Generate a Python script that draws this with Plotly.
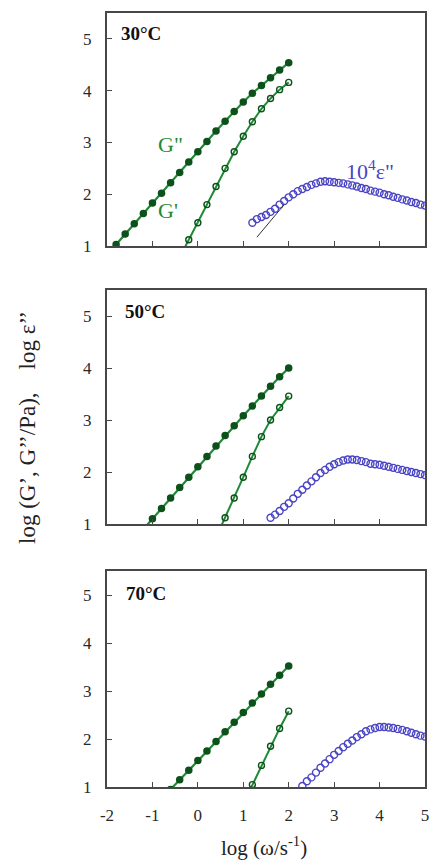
import plotly.graph_objects as go

FONT = "Liberation Serif"
GREEN_LINE = "#1f8a35"
GREEN_DARK = "#0b5119"
BLUE = "#4a44c4"

# ---------------- data ----------------
temps = ["30°C", "50°C", "70°C"]

# 30 C
g2_30_x = [-1.8, -1.6, -1.4, -1.2, -1.0, -0.8, -0.6, -0.4, -0.2, 0.0, 0.2, 0.4, 0.6, 0.8, 1.0, 1.2, 1.4, 1.6, 1.8, 2.0]
g2_30_y = [1.03, 1.23, 1.43, 1.63, 1.83, 2.02, 2.22, 2.42, 2.62, 2.82, 3.02, 3.22, 3.41, 3.60, 3.78, 3.95, 4.10, 4.25, 4.40, 4.54]
g1_30_x = [-0.4, -0.2, 0.0, 0.2, 0.4, 0.6, 0.8, 1.0, 1.2, 1.4, 1.6, 1.8, 2.0]
g1_30_y = [0.78, 1.12, 1.45, 1.80, 2.15, 2.50, 2.82, 3.12, 3.40, 3.65, 3.85, 4.02, 4.16]
e_30_x = [1.2, 1.3, 1.4, 1.5, 1.6, 1.7, 1.8, 1.9, 2.0, 2.1, 2.2, 2.3, 2.4, 2.5, 2.6, 2.7, 2.8, 2.9, 3.0,
          3.1, 3.2, 3.3, 3.4, 3.5, 3.6, 3.7, 3.8, 3.9, 4.0, 4.1, 4.2, 4.3, 4.4, 4.5, 4.6, 4.7, 4.8, 4.9, 5.0]
e_30_y = [1.45, 1.52, 1.56, 1.60, 1.66, 1.72, 1.80, 1.87, 1.94, 2.00, 2.06, 2.10, 2.14, 2.18, 2.21, 2.24, 2.25, 2.24, 2.23,
          2.22, 2.21, 2.19, 2.17, 2.15, 2.12, 2.10, 2.07, 2.05, 2.03, 2.00, 1.98, 1.95, 1.93, 1.90, 1.88, 1.85, 1.83, 1.80, 1.78]
fit_30_x = [1.3, 1.9]
fit_30_y = [1.17, 1.80]

# 50 C
g2_50_x = [-1.2, -1.0, -0.8, -0.6, -0.4, -0.2, 0.0, 0.2, 0.4, 0.6, 0.8, 1.0, 1.2, 1.4, 1.6, 1.8, 2.0]
g2_50_y = [0.90, 1.10, 1.30, 1.50, 1.70, 1.90, 2.10, 2.30, 2.50, 2.70, 2.89, 3.08, 3.27, 3.46, 3.65, 3.83, 4.00]
g1_50_x = [0.4, 0.6, 0.8, 1.0, 1.2, 1.4, 1.6, 1.8, 2.0]
g1_50_y = [0.74, 1.12, 1.50, 1.90, 2.30, 2.68, 3.00, 3.24, 3.46]
e_50_x = [1.6, 1.7, 1.8, 1.9, 2.0, 2.1, 2.2, 2.3, 2.4, 2.5, 2.6, 2.7, 2.8, 2.9, 3.0, 3.1, 3.2, 3.3,
          3.4, 3.5, 3.6, 3.7, 3.8, 3.9, 4.0, 4.1, 4.2, 4.3, 4.4, 4.5, 4.6, 4.7, 4.8, 4.9, 5.0]
e_50_y = [1.12, 1.18, 1.25, 1.33, 1.40, 1.49, 1.58, 1.66, 1.74, 1.82, 1.90, 1.98, 2.04, 2.10, 2.15, 2.19, 2.22, 2.24,
          2.24, 2.23, 2.21, 2.19, 2.16, 2.15, 2.14, 2.12, 2.10, 2.08, 2.06, 2.04, 2.02, 2.00, 1.98, 1.96, 1.94]

# 70 C
g2_70_x = [-0.6, -0.4, -0.2, 0.0, 0.2, 0.4, 0.6, 0.8, 1.0, 1.2, 1.4, 1.6, 1.8, 2.0]
g2_70_y = [0.95, 1.15, 1.35, 1.55, 1.75, 1.95, 2.15, 2.35, 2.55, 2.75, 2.94, 3.14, 3.33, 3.52]
g1_70_x = [1.0, 1.2, 1.4, 1.6, 1.8, 2.0]
g1_70_y = [0.65, 1.05, 1.45, 1.85, 2.22, 2.58]
e_70_x = [2.3, 2.4, 2.5, 2.6, 2.7, 2.8, 2.9, 3.0, 3.1, 3.2, 3.3, 3.4, 3.5, 3.6,
          3.7, 3.8, 3.9, 4.0, 4.1, 4.2, 4.3, 4.4, 4.5, 4.6, 4.7, 4.8, 4.9, 5.0]
e_70_y = [1.02, 1.12, 1.20, 1.30, 1.40, 1.49, 1.58, 1.67, 1.75, 1.83, 1.90, 1.97, 2.04, 2.10,
          2.16, 2.20, 2.23, 2.25, 2.25, 2.24, 2.23, 2.21, 2.19, 2.16, 2.13, 2.10, 2.07, 2.05]

x_ticks = [-2, -1, 0, 1, 2, 3, 4, 5]
y_ticks = [1, 2, 3, 4, 5]

panels = [
    (g2_30_x, g2_30_y, g1_30_x, g1_30_y, e_30_x, e_30_y),
    (g2_50_x, g2_50_y, g1_50_x, g1_50_y, e_50_x, e_50_y),
    (g2_70_x, g2_70_y, g1_70_x, g1_70_y, e_70_x, e_70_y),
]

fig = go.Figure()
for i, (g2x, g2y, g1x, g1y, ex, ey) in enumerate(panels):
    sfx = "" if i == 0 else str(i + 1)
    xa, ya = "x" + sfx, "y" + sfx
    fig.add_trace(go.Scatter(x=g1x, y=g1y, xaxis=xa, yaxis=ya, mode="lines+markers",
                             line=dict(color=GREEN_LINE, width=2),
                             marker=dict(symbol="circle-open", size=6, color=GREEN_DARK, line=dict(width=1.4))))
    fig.add_trace(go.Scatter(x=g2x, y=g2y, xaxis=xa, yaxis=ya, mode="lines+markers",
                             line=dict(color=GREEN_LINE, width=2.2),
                             marker=dict(symbol="circle", size=7.5, color=GREEN_DARK)))
    fig.add_trace(go.Scatter(x=ex, y=ey, xaxis=xa, yaxis=ya, mode="markers",
                             marker=dict(symbol="circle-open", size=7, color=BLUE, line=dict(width=1.4))))
    if i == 0:
        fig.add_trace(go.Scatter(x=fit_30_x, y=fit_30_y, xaxis=xa, yaxis=ya, mode="lines",
                                 line=dict(color="#333333", width=1)))

# layout: margins and domains in pixels
W, H = 433, 864
ml, mr, mt, mb = 107, 4, 13, 77
ph = H - mt - mb
bottom_px = H - mb
def dom(top, bot):
    return [(bottom_px - bot) / ph, (bottom_px - top) / ph]

domains = [dom(13, 246), dom(290, 524), dom(571, 787)]

axis_common = dict(showline=True, mirror=True, linecolor="#484848", linewidth=2,
                   ticks="inside", ticklen=5, tickcolor="#484848", tickwidth=1.2,
                   showgrid=False, zeroline=False,
                   tickfont=dict(family=FONT, size=17, color="#2a2a2a"))

layout = dict(width=W, height=H, margin=dict(l=ml, r=mr, t=mt, b=mb),
              paper_bgcolor="white", plot_bgcolor="white", showlegend=False)
for i in range(3):
    sfx = "" if i == 0 else str(i + 1)
    layout["xaxis" + sfx] = dict(axis_common, range=[-2, 5], tickvals=x_ticks,
                                 ticktext=[str(v) for v in x_ticks],
                                 anchor="y" + sfx, domain=[0, 1],
                                 showticklabels=(i == 2), ticklabelstandoff=12)
    layout["yaxis" + sfx] = dict(axis_common, range=[1, 5.5], tickvals=y_ticks,
                                 anchor="x" + sfx, domain=domains[i], ticklabelstandoff=10)
fig.update_layout(**layout)

# temperature labels
temp_pos = [(-1.74, 5.1), (-1.65, 5.08), (-1.63, 5.04)]
for i, t in enumerate(temps):
    sfx = "" if i == 0 else str(i + 1)
    fig.add_annotation(x=temp_pos[i][0], y=temp_pos[i][1], xref="x" + sfx, yref="y" + sfx,
                       text="<b>" + t + "</b>", showarrow=False, xanchor="left", yanchor="middle",
                       font=dict(family=FONT, size=19, color="#111111"))

# curve labels (panel 1)
fig.add_annotation(x=-0.61, y=2.96, xref="x", yref="y", text="G\"", showarrow=False,
                   font=dict(family=FONT, size=22, color=GREEN_LINE))
fig.add_annotation(x=-0.65, y=1.69, xref="x", yref="y", text="G'", showarrow=False,
                   font=dict(family=FONT, size=22, color=GREEN_LINE))
fig.add_annotation(x=3.78, y=2.46, xref="x", yref="y", text="10<sup>4</sup>ε\"", showarrow=False,
                   font=dict(family=FONT, size=22, color=BLUE))

# axis titles
fig.add_annotation(x=(266 - ml) / (W - ml - mr), y=(bottom_px - 846) / ph, xref="paper", yref="paper",
                   text="log (ω/s<sup>-1</sup>)", showarrow=False, yanchor="middle",
                   font=dict(family=FONT, size=21, color="#222222"))
fig.add_annotation(x=(26 - ml) / (W - ml - mr), y=(bottom_px - 428) / ph, xref="paper", yref="paper",
                   text="log (G’, G’’/Pa),&nbsp;&nbsp;&nbsp;&nbsp;log ε’’", textangle=-90, showarrow=False,
                   xanchor="center", yanchor="middle",
                   font=dict(family=FONT, size=23, color="#222222"))

fig.write_html("out.html")
